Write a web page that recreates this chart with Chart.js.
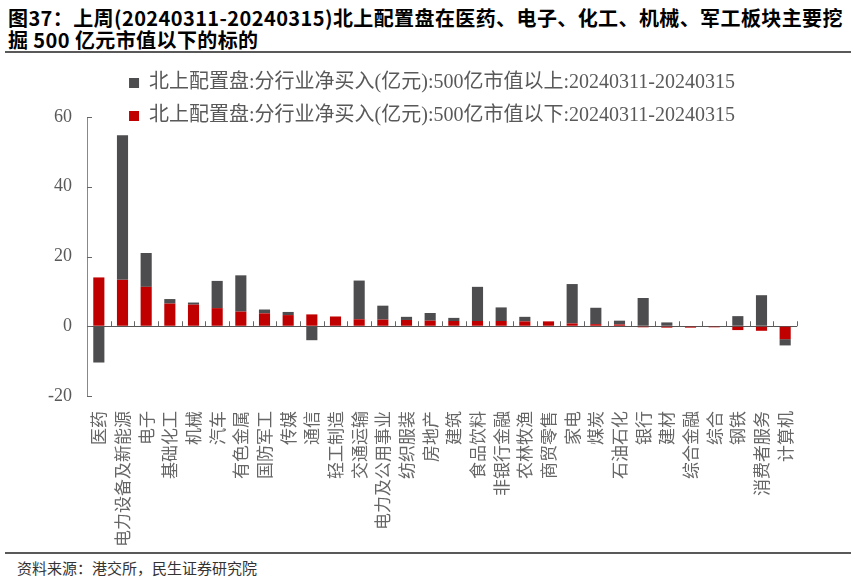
<!DOCTYPE html>
<html>
<head>
<meta charset="utf-8">
<script src="https://cdn.jsdelivr.net/npm/chart.js@4.4.1/dist/chart.umd.min.js"></script>
<style>
	html, body { margin: 0; padding: 0; background: #fff; }
	body { width: 855px; height: 580px; position: relative; overflow: hidden; font-family: 'Noto Sans CJK SC', sans-serif; }
	#title { position: absolute; left: 8px; top: 7px; font-size: 20px; font-weight: bold; line-height: 22px; letter-spacing: 0.4px; color: #000; white-space: nowrap; }
	.rule { position: absolute; left: 5px; width: 846px; height: 2px; background: #595959; }
	#source { position: absolute; left: 17px; top: 559px; font-size: 15px; line-height: 18px; color: #333; }
	#wrap { position: absolute; left: 0; top: 55px; width: 855px; height: 495px; }
</style>
</head>
<body>
<div id="title">图37：上周(20240311-20240315)北上配置盘在医药、电子、化工、机械、军工板块主要挖<br>掘 500 亿元市值以下的标的</div>
<div class="rule" style="top:51px"></div>
<div id="wrap"><canvas id="chart" width="855" height="495"></canvas></div>
<div class="rule" style="top:552px"></div>
<div id="source">资料来源：港交所，民生证券研究院</div>
<script>
var categories = ['医药', '电力设备及新能源', '电子', '基础化工', '机械', '汽车', '有色金属', '国防军工', '传媒', '通信',
	'轻工制造', '交通运输', '电力及公用事业', '纺织服装', '房地产', '建筑', '食品饮料', '非银行金融', '农林牧渔', '商贸零售',
	'家电', '煤炭', '石油石化', '银行', '建材', '综合金融', '综合', '钢铁', '消费者服务', '计算机'];

// 500亿市值以下 (red, stacked next to zero)
var belowValues = [14.0, 13.3, 11.3, 6.5, 6.2, 5.2, 4.2, 3.7, 3.2, 3.4,
	2.8, 2.0, 1.9, 1.8, 1.6, 1.5, 1.5, 1.5, 1.4, 1.4,
	0.8, 0.6, 0.5, -0.3, -0.4, -0.4, -0.3, -1.1, -1.3, -3.7];

// 500亿市值以上 (dark gray)
var aboveValues = [-10.4, 41.5, 9.7, 1.3, 0.6, 7.8, 10.4, 1.1, 0.9, -4.0,
	0, 11.1, 4.0, 0.9, 2.2, 0.9, 9.8, 3.9, 1.3, 0,
	11.3, 4.7, 1.1, 8.1, 1.1, 0, 0, 2.9, 8.9, -1.8];

var yTicks = [-20, 0, 20, 40, 60];

var seriesAbove = '北上配置盘:分行业净买入(亿元):500亿市值以上:20240311-20240315';
var seriesBelow = '北上配置盘:分行业净买入(亿元):500亿市值以下:20240311-20240315';

// legend overlaps the top of the plot in the original, so draw it without its clip box
// (and nudge it a little right, like the original)
var legendNoClip = {
	id: 'legendNoClip',
	afterInit: function(chart) {
		var lg = chart.legend;
		if (lg) {
			lg.draw = function() {
				if (!this.options.display) return;
				this.ctx.save();
				this.ctx.translate(10, 0);
				this._draw();
				this.ctx.restore();
			};
		}
	}
};

// small inward ticks on the y axis and category ticks on the zero line
var axisMarks = {
	id: 'axisMarks',
	afterDatasetsDraw: function(chart) {
		var ctx = chart.ctx;
		var x = chart.scales.x;
		var y = chart.scales.y;
		var zero = y.getPixelForValue(0);
		ctx.save();
		ctx.strokeStyle = '#666';
		ctx.lineWidth = 1;
		ctx.beginPath();
		yTicks.forEach(function(v) {
			var py = Math.round(y.getPixelForValue(v)) + 0.5;
			ctx.moveTo(x.left, py);
			ctx.lineTo(x.left + 5, py);
		});
		var step = x.width / categories.length;
		for (var i = 1; i <= categories.length; i++) {
			var px = Math.round(x.left + i * step) + 0.5;
			ctx.moveTo(px, zero);
			ctx.lineTo(px, zero - 5);
		}
		ctx.stroke();
		ctx.restore();
	}
};

new Chart(document.getElementById('chart'), {
	type: 'bar',
	data: {
		labels: categories,
		datasets: [
			{ label: seriesBelow, data: belowValues, backgroundColor: '#C00000', borderWidth: 0 },
			{ label: seriesAbove, data: aboveValues, backgroundColor: '#4D4D4F', borderWidth: 0 }
		]
	},
	options: {
		responsive: false,
		animation: false,
		layout: { padding: { left: 47, right: 58, top: 5, bottom: 4 } },
		datasets: { bar: { categoryPercentage: 1, barPercentage: 0.47 } },
		plugins: {
			legend: {
				position: 'top',
				reverse: true,
				maxHeight: 57,
				labels: {
					boxWidth: 10,
					boxHeight: 10,
					padding: 13,
					color: '#595959',
					font: { family: "'Liberation Serif', 'Noto Sans CJK SC'", size: 20 }
				}
			},
			tooltip: { enabled: false }
		},
		scales: {
			x: {
				stacked: true,
				grid: { display: false },
				border: { display: false },
				afterFit: function(s) { s.height = 150; },
				ticks: {
					autoSkip: false,
					minRotation: 90,
					maxRotation: 90,
					padding: 7,
					color: '#666',
					font: { family: "'Noto Sans CJK SC'", size: 17 }
				}
			},
			y: {
				stacked: true,
				min: -20,
				max: 60,
				afterFit: function(s) { s.width = 40; },
				border: { display: true, color: '#888', width: 1 },
				grid: {
					drawTicks: false,
					color: function(c) { return c.tick && c.tick.value === 0 ? '#555' : 'rgba(0,0,0,0)'; }
				},
				ticks: {
					stepSize: 20,
					padding: 15,
					color: '#595959',
					font: { family: "'Liberation Serif'", size: 18 }
				}
			}
		}
	},
	plugins: [legendNoClip, axisMarks]
});
</script>
</body>
</html>
